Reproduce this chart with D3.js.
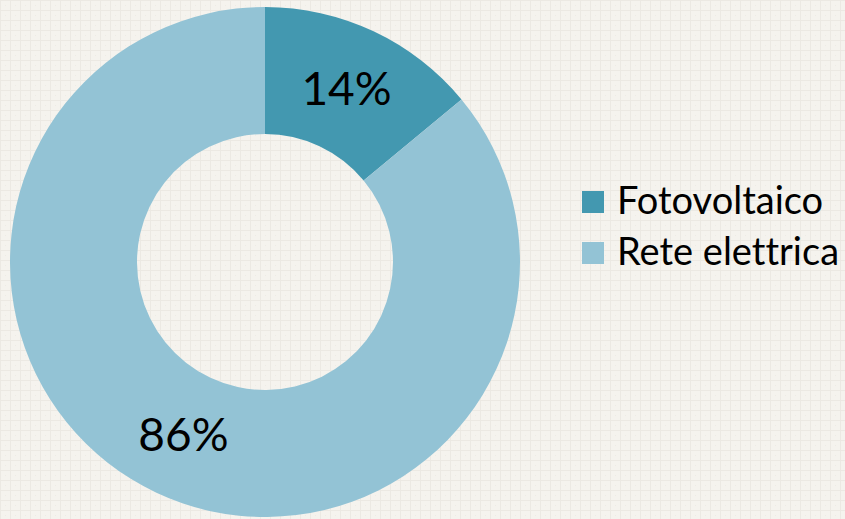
<!DOCTYPE html>
<html>
<head>
<meta charset="utf-8">
<script src="https://cdn.jsdelivr.net/npm/d3@7"></script>
<style>
  body { margin: 0; background: #f5f3ee; }
  svg text { font-family: Lato, "Open Sans", sans-serif; fill: #000; font-variant-ligatures: none; }
</style>
</head>
<body>
<div id="chart"></div>
<script>
var categories = ["Fotovoltaico", "Rete elettrica"];
var values = [14, 86];
var colors = ["#4398b0", "#93c3d5"];

var width = 845;
var height = 519;
var cx = 265, cy = 262;
var outerR = 255, innerR = 128;

var svg = d3.select("#chart").append("svg")
    .attr("width", width)
    .attr("height", height);

// sfondo a griglia
var defs = svg.append("defs");
var pat = defs.append("pattern")
    .attr("id", "grid")
    .attr("width", 10)
    .attr("height", 10)
    .attr("patternUnits", "userSpaceOnUse");
pat.append("rect").attr("width", 10).attr("height", 10).attr("fill", "#f5f3ee");
pat.append("path")
    .attr("d", "M0,0.5H10M0.5,0V10")
    .attr("stroke", "#ece9e3")
    .attr("stroke-width", 1);
pat.append("rect").attr("x", 5).attr("y", 5).attr("width", 1).attr("height", 1).attr("fill", "#eeebe5");

svg.append("rect")
    .attr("width", width)
    .attr("height", height)
    .attr("fill", "url(#grid)");

var pie = d3.pie().sort(null).value(function(d) { return d; });
var arc = d3.arc().innerRadius(innerR).outerRadius(outerR);

var g = svg.append("g").attr("transform", "translate(" + cx + "," + cy + ")");

var arcs = pie(values);

g.selectAll("path.slice")
    .data(arcs)
    .enter()
    .append("path")
    .attr("class", "slice")
    .attr("d", arc)
    .attr("fill", function(d, i) { return colors[i]; });

var total = d3.sum(values);
g.selectAll("text.lbl")
    .data(arcs)
    .enter()
    .append("text")
    .attr("class", "lbl")
    .attr("transform", function(d) { return "translate(" + arc.centroid(d) + ")"; })
    .attr("text-anchor", "middle")
    .attr("dy", "0.35em")
    .style("font-size", "46px")
    .text(function(d) { return Math.round(d.data / total * 100) + "%"; });

// legenda
var legend = svg.append("g").attr("transform", "translate(582,191)");
var item = legend.selectAll("g")
    .data(categories)
    .enter()
    .append("g")
    .attr("transform", function(d, i) { return "translate(0," + (i * 51) + ")"; });

item.append("rect")
    .attr("width", 22)
    .attr("height", 22)
    .attr("fill", function(d, i) { return colors[i]; });

item.append("text")
    .attr("x", 35)
    .attr("y", 23)
    .style("font-size", "38px")
    .text(function(d) { return d; });
</script>
</body>
</html>
